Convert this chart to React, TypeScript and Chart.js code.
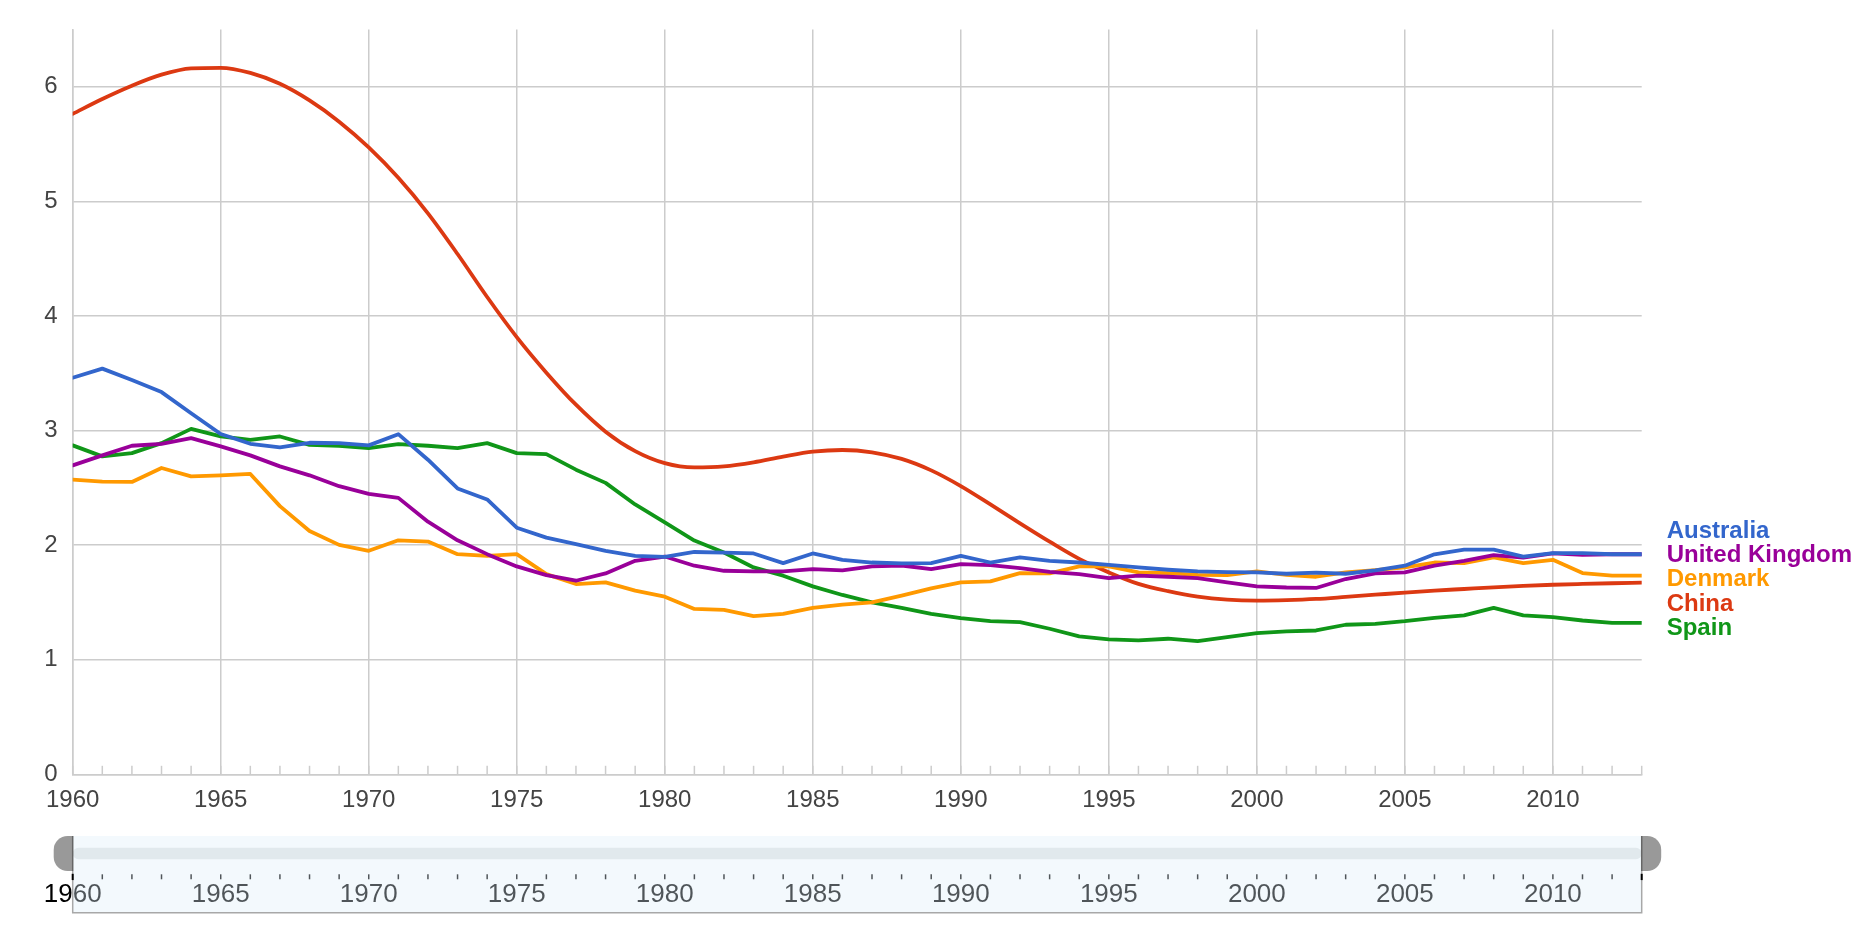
import React, { useEffect, useRef } from 'react';
import { Chart, registerables } from 'chart.js';

Chart.register(...registerables);

const years = [
  1960, 1961, 1962, 1963, 1964, 1965, 1966, 1967, 1968, 1969,
  1970, 1971, 1972, 1973, 1974, 1975, 1976, 1977, 1978, 1979,
  1980, 1981, 1982, 1983, 1984, 1985, 1986, 1987, 1988, 1989,
  1990, 1991, 1992, 1993, 1994, 1995, 1996, 1997, 1998, 1999,
  2000, 2001, 2002, 2003, 2004, 2005, 2006, 2007, 2008, 2009,
  2010, 2011, 2012, 2013,
];

const australia = [
  3.46, 3.54, 3.44, 3.335, 3.15, 2.97, 2.884, 2.852, 2.893, 2.89,
  2.87, 2.968, 2.745, 2.494, 2.398, 2.152, 2.065, 2.008, 1.95, 1.906,
  1.898, 1.94, 1.935, 1.927, 1.843, 1.927, 1.872, 1.848, 1.84, 1.843,
  1.906, 1.848, 1.892, 1.863, 1.848, 1.828, 1.805, 1.785, 1.77, 1.765,
  1.762, 1.75, 1.76, 1.75, 1.78, 1.82, 1.92, 1.96, 1.96, 1.9,
  1.93, 1.93, 1.92, 1.92,
];

const unitedKingdom = [
  2.696, 2.783, 2.867, 2.884, 2.933, 2.861, 2.783, 2.687, 2.609, 2.514,
  2.447, 2.412, 2.204, 2.042, 1.921, 1.814, 1.738, 1.689, 1.753, 1.863,
  1.9, 1.82, 1.776, 1.77, 1.77, 1.79, 1.78, 1.814, 1.822, 1.79,
  1.834, 1.825, 1.8, 1.767, 1.747, 1.712, 1.733, 1.724, 1.712, 1.675,
  1.64, 1.63, 1.626, 1.704, 1.753, 1.762, 1.82, 1.863, 1.912, 1.89,
  1.927, 1.915, 1.92, 1.92,
];

const denmark = [
  2.572, 2.554, 2.551, 2.673, 2.6, 2.609, 2.621, 2.34, 2.123, 2.002,
  1.95, 2.042, 2.031, 1.921, 1.906, 1.921, 1.747, 1.66, 1.675, 1.603,
  1.55, 1.443, 1.435, 1.38, 1.4, 1.452, 1.481, 1.501, 1.559, 1.623,
  1.675, 1.684, 1.756, 1.753, 1.814, 1.814, 1.762, 1.756, 1.741, 1.738,
  1.77, 1.741, 1.724, 1.762, 1.782, 1.805, 1.848, 1.843, 1.892, 1.843,
  1.872, 1.756, 1.733, 1.733,
];

const china = [
  5.763, 5.893, 6.009, 6.105, 6.16, 6.165, 6.12, 6.025, 5.88, 5.695,
  5.47, 5.205, 4.895, 4.54, 4.165, 3.815, 3.505, 3.225, 2.99, 2.82,
  2.715, 2.678, 2.687, 2.722, 2.772, 2.815, 2.83, 2.81, 2.752, 2.652,
  2.515, 2.355, 2.19, 2.03, 1.88, 1.762, 1.662, 1.598, 1.55, 1.524,
  1.516, 1.52, 1.53, 1.548, 1.567, 1.586, 1.603, 1.617, 1.631, 1.644,
  1.654, 1.661, 1.667, 1.672,
];

const spain = [
  2.87, 2.774, 2.803, 2.89, 3.014, 2.948, 2.919, 2.948, 2.875, 2.867,
  2.846, 2.881, 2.867, 2.846, 2.89, 2.803, 2.794, 2.658, 2.543, 2.355,
  2.198, 2.04, 1.935, 1.805, 1.733, 1.64, 1.565, 1.501, 1.452, 1.4,
  1.362, 1.336, 1.328, 1.27, 1.203, 1.177, 1.169, 1.183, 1.163, 1.198,
  1.232, 1.247, 1.255, 1.305, 1.313, 1.336, 1.365, 1.386, 1.452, 1.386,
  1.371, 1.342, 1.322, 1.322,
];

const seriesNames = ['Australia', 'United Kingdom', 'Denmark', 'China', 'Spain'];
const seriesValues = [australia, unitedKingdom, denmark, china, spain];
const seriesColors = ['#3366cc', '#990099', '#ff9900', '#dc3912', '#109618'];
const smoothSeries = ['China'];

const labelStep = 5;
const FONT = '"Liberation Sans", Arial, Helvetica, sans-serif';
const GRID = '#cccccc';

const decorPlugin = {
  id: 'decor',
  beforeDatasetsDraw(chart: any) {
    const { ctx, chartArea, scales } = chart;
    const x = scales.x;
    ctx.save();
    ctx.strokeStyle = GRID;
    ctx.lineWidth = 1.5;
    for (const yr of years) {
      const px = x.getPixelForValue(yr);
      ctx.beginPath();
      ctx.moveTo(px, chartArea.bottom);
      ctx.lineTo(px, chartArea.bottom - 8.5);
      ctx.stroke();
    }
    ctx.restore();
  },
  afterDraw(chart: any) {
    const { ctx, chartArea, scales } = chart;
    const x = scales.x;
    const y = scales.y;

    const ends = chart.data.datasets.map((ds: any, i: number) => {
      const last = ds.data[ds.data.length - 1];
      return { i, v: last.y, py: y.getPixelForValue(last.y) };
    });
    const sorted = [...ends].sort((a: any, b: any) => b.v - a.v);
    const gap = 24.2;
    const mean = sorted.reduce((s: number, e: any) => s + e.py, 0) / sorted.length;
    ctx.save();
    ctx.font = 'bold 24px ' + FONT;
    ctx.textAlign = 'left';
    ctx.textBaseline = 'alphabetic';
    sorted.forEach((e: any, k: number) => {
      const cy = mean + (k - (sorted.length - 1) / 2) * gap;
      ctx.fillStyle = seriesColors[e.i];
      ctx.fillText(seriesNames[e.i], chartArea.right + 25, cy + 8.4);
    });
    ctx.restore();

    const L = chartArea.left;
    const R = chartArea.right;
    const b = chartArea.bottom;
    const boxTop = b + 61.7;
    const boxBottom = b + 138.4;
    const tickTop = b + 100;
    const tickBottom = b + 105;
    ctx.save();
    ctx.fillStyle = '#000';
    ctx.strokeStyle = '#000';
    ctx.lineWidth = 1.5;
    ctx.font = '26px ' + FONT;
    ctx.textAlign = 'center';
    ctx.textBaseline = 'alphabetic';
    for (const yr of years) {
      const px = x.getPixelForValue(yr);
      if (yr !== years[0] && yr !== years[years.length - 1]) {
        ctx.beginPath();
        ctx.moveTo(px, tickTop);
        ctx.lineTo(px, tickBottom);
        ctx.stroke();
      }
      if (yr % labelStep === 0) {
        ctx.fillText(String(yr), px, b + 127.6);
      }
    }
    ctx.fillStyle = 'rgba(220,237,248,0.355)';
    ctx.fillRect(L, boxTop, R - L, boxBottom - boxTop);
    ctx.fillStyle = '#e1e9ed';
    ctx.beginPath();
    (ctx as any).roundRect(L, b + 73.4, R - L, 11.6, 5.8);
    ctx.fill();
    ctx.strokeStyle = '#a8a8a8';
    ctx.lineWidth = 1.5;
    ctx.beginPath();
    ctx.moveTo(L, b + 96.7);
    ctx.lineTo(L, boxBottom);
    ctx.lineTo(R, boxBottom);
    ctx.lineTo(R, b + 96.7);
    ctx.stroke();
    ctx.strokeStyle = '#000';
    ctx.lineWidth = 2;
    [L, R].forEach((px) => {
      ctx.beginPath();
      ctx.moveTo(px, tickTop - 0.5);
      ctx.lineTo(px, tickBottom + 0.8);
      ctx.stroke();
    });
    ctx.fillStyle = '#999999';
    ctx.beginPath();
    (ctx as any).roundRect(L - 19, boxTop, 19, 35, [14, 0, 0, 14]);
    ctx.fill();
    ctx.beginPath();
    (ctx as any).roundRect(R, boxTop, 19.5, 35, [0, 14, 14, 0]);
    ctx.fill();
    ctx.strokeStyle = '#666666';
    ctx.lineWidth = 1.5;
    [L, R].forEach((px) => {
      ctx.beginPath();
      ctx.moveTo(px, boxTop);
      ctx.lineTo(px, boxTop + 35);
      ctx.stroke();
    });
    ctx.restore();
  },
};

export default function App() {
  const canvasRef = useRef<HTMLCanvasElement | null>(null);

  useEffect(() => {
    const canvas = canvasRef.current;
    if (!canvas) return;
    Chart.defaults.font.family = FONT;
    const chart = new Chart(canvas, {
      type: 'line',
      data: {
        datasets: seriesNames.map((name, i) => ({
          label: name,
          data: years.map((yr, k) => ({ x: yr, y: seriesValues[i][k] })),
          borderColor: seriesColors[i],
          backgroundColor: seriesColors[i],
          borderWidth: 3.8,
          borderJoinStyle: 'round' as const,
          borderCapStyle: 'round' as const,
          pointRadius: 0,
          pointHoverRadius: 0,
          tension: 0,
          cubicInterpolationMode: smoothSeries.includes(name) ? ('monotone' as const) : ('default' as const),
          fill: false,
        })),
      },
      options: {
        responsive: false,
        animation: false,
        events: [],
        layout: { padding: { top: 24, right: 232.3, left: 0, bottom: 0 } },
        plugins: {
          legend: { display: false },
          tooltip: { enabled: false },
        },
        scales: {
          x: {
            type: 'linear',
            min: years[0],
            max: years[years.length - 1],
            afterFit: (s: any) => {
              s.height = 161.7;
            },
            ticks: {
              stepSize: 1,
              autoSkip: false,
              maxRotation: 0,
              minRotation: 0,
              padding: 12,
              color: '#444444',
              font: { size: 24, family: FONT },
              callback: (v: any) => (Number(v) % labelStep === 0 ? String(v) : ''),
            },
            grid: {
              drawTicks: false,
              lineWidth: 1.5,
              color: (c: any) => (c.tick && c.tick.value % labelStep === 0 ? GRID : 'rgba(0,0,0,0)'),
            },
            border: { display: true, color: GRID, width: 1.5 },
          },
          y: {
            type: 'linear',
            min: 0,
            max: 6.5,
            afterFit: (s: any) => {
              s.width = 72.7;
            },
            ticks: {
              stepSize: 1,
              includeBounds: false,
              padding: 15,
              color: '#444444',
              font: { size: 24, family: FONT },
            },
            grid: {
              drawTicks: false,
              lineWidth: 1.5,
              color: GRID,
            },
            border: { display: true, color: GRID, width: 1.5 },
          },
        },
      },
      plugins: [decorPlugin],
    });
    return () => chart.destroy();
  }, []);

  return (
    <div style={{ position: 'absolute', left: 0, top: 0, width: 1874, height: 936, background: '#fff' }}>
      <canvas ref={canvasRef} width={1874} height={936} style={{ display: 'block' }} />
    </div>
  );
}
